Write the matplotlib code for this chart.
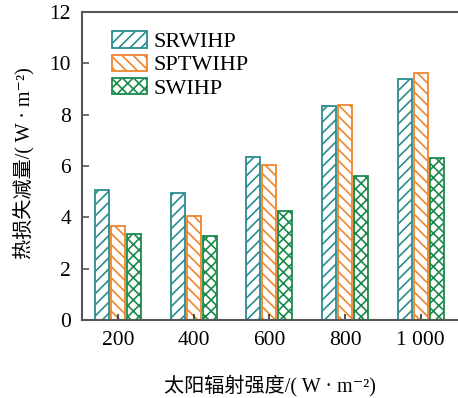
import numpy as np
import matplotlib
matplotlib.use('Agg')
import matplotlib.pyplot as plt

plt.rcParams['font.family'] = ['Liberation Serif', 'Noto Sans CJK SC', 'DejaVu Serif']
plt.rcParams['hatch.linewidth'] = 1.2

# data
categories = ['200', '400', '600', '800', '1 000']
series = ['SRWIHP', 'SPTWIHP', 'SWIHP']
srwihp = [5.06, 4.96, 6.34, 8.34, 9.40]
sptwihp = [3.67, 4.05, 6.05, 8.39, 9.62]
swihp = [3.35, 3.27, 4.23, 5.62, 6.32]

colors = ['#2a8c90', '#f0852c', '#1b8a4c']
hatches = ['///', '\\\\\\', 'xxx']

fig = plt.figure(figsize=(4.58, 3.98), dpi=100)
ax = fig.add_axes([82/458, 78/398, 375/458, 308/398])

x = np.arange(len(categories))
w = 0.185
off = 0.21
for k, vals in enumerate([srwihp, sptwihp, swihp]):
    ax.bar(x + (k - 1)*off, vals, w, facecolor='white', edgecolor=colors[k],
           hatch=hatches[k], linewidth=1.3, label=series[k])

ax.set_xlim(-0.476, 4.48)
ax.set_ylim(0, 12)
ax.set_yticks([0, 2, 4, 6, 8, 10, 12])
ax.set_xticks(x)
ax.set_xticklabels(categories)

for s in ['left', 'bottom', 'top']:
    ax.spines[s].set_color('#555555')
    ax.spines[s].set_linewidth(1.5)
ax.spines['right'].set_visible(False)
ax.tick_params(axis='y', direction='in', length=5, width=1.2, color='#555555', labelsize=15.5, pad=8)
ax.tick_params(axis='x', direction='in', length=4, width=1.2, color='#333333', labelsize=15.5, pad=8)

ax.set_xlabel('太阳辐射强度/( W · m⁻²)', fontsize=14.5, labelpad=18)
ax.set_ylabel('热损失减量/( W · m⁻²)', fontsize=14.5)
ax.yaxis.set_label_coords(-0.128, 0.51)

ax.legend(loc='upper left', bbox_to_anchor=(0.045, 0.98), frameon=False, fontsize=16,
          handlelength=1.55, handleheight=0.75, labelspacing=0.1, handletextpad=0.3,
          borderaxespad=0.2)

fig.savefig('out.png', dpi=100)
